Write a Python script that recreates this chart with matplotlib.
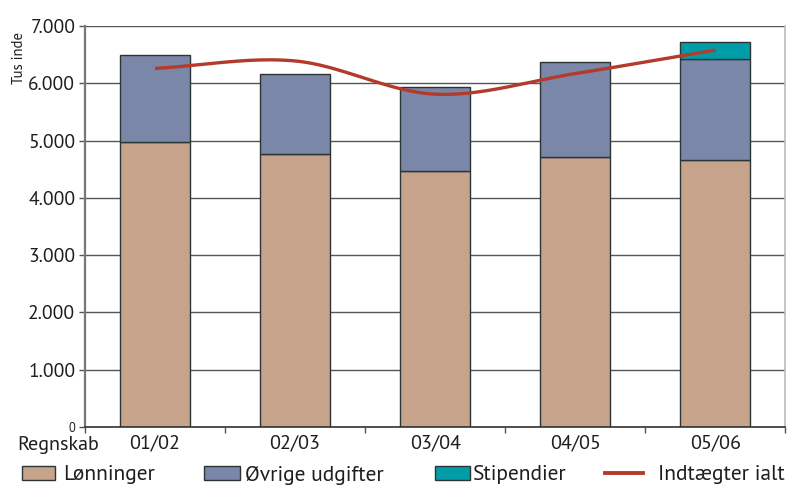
import matplotlib
matplotlib.use("Agg")
import matplotlib.pyplot as plt
import numpy as np
from matplotlib.patches import Patch
from matplotlib.lines import Line2D

categories = ["01/02", "02/03", "03/04", "04/05", "05/06"]
lonninger = [4980, 4770, 4470, 4720, 4660]
ovrige = [1520, 1400, 1470, 1650, 1770]
stipendier = [0, 0, 0, 0, 290]
indtaegter = [6260, 6390, 5810, 6170, 6580]
yticks = [0, 1000, 2000, 3000, 4000, 5000, 6000, 7000]
yticklabels = ["0", "1.000", "2.000", "3.000", "4.000", "5.000", "6.000", "7.000"]

plt.rcParams['font.family'] = ['PT Sans', 'DejaVu Sans']

c_lon = "#C6A38B"
c_ovr = "#7A87A8"
c_sti = "#009DA8"
c_line = "#B43A2C"
edge = "#2B3535"
txtc = "#1E1E1E"

fig = plt.figure(figsize=(7.87, 4.87), dpi=100)
ax = fig.add_axes([0.108, 0.1232, 0.890, 0.8234])

x = np.arange(len(categories))
w = 0.5
b1 = np.array(lonninger)
b2 = b1 + np.array(ovrige)
ax.bar(x, lonninger, w, color=c_lon, edgecolor=edge, linewidth=1.0, zorder=2)
ax.bar(x, ovrige, w, bottom=b1, color=c_ovr, edgecolor=edge, linewidth=1.0, zorder=2)
sx = [i for i in x if stipendier[i] > 0]
ax.bar(sx, [stipendier[i] for i in sx], w, bottom=[b2[i] for i in sx],
       color=c_sti, edgecolor=edge, linewidth=1.0, zorder=2)

# Smoothed line (Catmull-Rom through the data points, spreadsheet-style smoothing)
px = x.astype(float)
py = np.array(indtaegter, dtype=float)
pts = np.column_stack([px, py])
ext = np.vstack([pts[0] - (pts[1] - pts[0]), pts, pts[-1] + (pts[-1] - pts[-2])])
cx, cy = [], []
for i in range(1, len(ext) - 2):
    p0, p1, p2, p3 = ext[i - 1], ext[i], ext[i + 1], ext[i + 2]
    t = np.linspace(0, 1, 40)[:, None]
    seg = 0.5 * ((2 * p1) + (-p0 + p2) * t + (2 * p0 - 5 * p1 + 4 * p2 - p3) * t ** 2
                 + (-p0 + 3 * p1 - 3 * p2 + p3) * t ** 3)
    cx.extend(seg[:, 0]); cy.extend(seg[:, 1])
ax.plot(cx, cy, color=c_line, linewidth=2.4, zorder=3, solid_capstyle='butt')

ax.set_xlim(-0.5, len(categories) - 0.5)
ax.set_ylim(0, 7000)
ax.set_yticks(yticks)
ax.set_yticklabels(yticklabels, fontsize=14, color=txtc)
ax.get_yticklabels()[0].set_fontsize(9)
ax.yaxis.grid(True, color="#555555", linewidth=1.0, zorder=0)
ax.set_axisbelow(True)
ax.tick_params(axis='y', length=4, width=1, color="#555555", pad=3)

ax.set_xticks(x)
ax.set_xticklabels(categories, fontsize=14.5, color=txtc)
ax.set_xticks(np.arange(-0.5, len(categories) + 0.5, 1), minor=True)
ax.tick_params(axis='x', which='major', length=0, pad=5)
ax.tick_params(axis='x', which='minor', length=4, width=1, color="#555555")

ax.spines['left'].set_color("#777777")
ax.spines['left'].set_linewidth(1.6)
ax.spines['bottom'].set_color("#333333")
ax.spines['bottom'].set_linewidth(1.2)
ax.spines['top'].set_visible(False)
ax.spines['right'].set_color("#BBBBBB")
ax.spines['right'].set_linewidth(1.2)

fig.text(19 / 787, 1 - 58 / 487, "Tus inde", rotation=90, fontsize=10.5,
         ha='center', va='center', color=txtc)
fig.text(17 / 787, 1 - 445 / 487, "Regnskab", fontsize=14.5, ha='left', va='center', color=txtc)

labels = ["Lønninger", "Øvrige udgifter", "Stipendier", "Indtægter ialt"]
handles = [Patch(facecolor=c_lon, edgecolor=edge, linewidth=1.0),
           Patch(facecolor=c_ovr, edgecolor=edge, linewidth=1.0),
           Patch(facecolor=c_sti, edgecolor=edge, linewidth=1.0),
           Line2D([0], [0], color=c_line, linewidth=2.8)]
starts = [22, 204, 435, 605]
fs_leg = 15.5
px_em = fs_leg * 100 / 72
hlen = [33 / px_em, 36 / px_em, 35 / px_em, 38 / px_em]
tpad = [8 / px_em, 5 / px_em, 3 / px_em, 15 / px_em]
ly = 1 - 475 / 487
for h, lab, s, hl, tp in zip(handles, labels, starts, hlen, tpad):
    fig.legend([h], [lab], loc='center left', bbox_to_anchor=(s / 787, ly),
               frameon=False, fontsize=fs_leg, handlelength=hl, handleheight=0.58,
               handletextpad=tp, borderaxespad=0, borderpad=0,
               labelcolor=txtc)

fig.savefig("out.png", dpi=100)
